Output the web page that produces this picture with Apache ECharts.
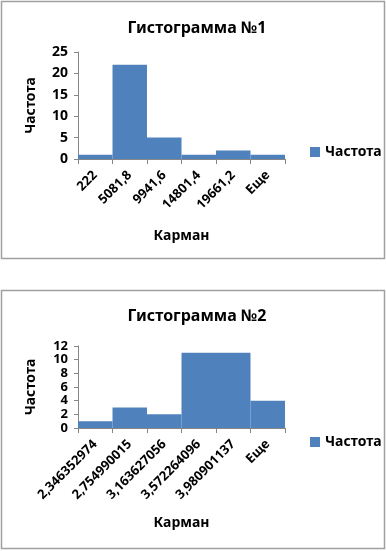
<!DOCTYPE html>
<html><head><meta charset="utf-8">
<script src="https://cdn.jsdelivr.net/npm/echarts@6/dist/echarts.min.js"></script>
<style>html,body{margin:0;padding:0;background:#fff;}#c{width:386px;height:551px;}</style>
</head><body><div id="c"></div>
<script>
const title1 = 'Гистограмма №1';
const title2 = 'Гистограмма №2';
const seriesName = 'Частота';
const xName = 'Карман';
const yName = 'Частота';
const categories1 = ['222', '5081,8', '9941,6', '14801,4', '19661,2', 'Еще'];
const values1 = [1, 22, 5, 1, 2, 1];
const categories2 = ['2,346352974', '2,754990015', '3,163627056', '3,572264096', '3,980901137', 'Еще'];
const values2 = [1, 3, 2, 11, 11, 4];

const FONT = '"Noto Sans", "Open Sans", sans-serif';
const BAR = '#4F81BD';
const AX = '#868686';

function xAxis(gridIndex, cats, gap) {
  return {
    type: 'category', gridIndex, data: cats,
    name: xName, nameLocation: 'middle', nameGap: gap,
    nameTextStyle: { fontFamily: FONT, fontWeight: 'bold', fontSize: 14, color: '#000' },
    axisLine: { lineStyle: { color: AX } },
    axisTick: { show: true, alignWithLabel: false, length: 5, lineStyle: { color: AX } },
    axisLabel: { rotate: 45, interval: 0, margin: 14, fontFamily: FONT, fontWeight: 'bold', fontSize: 13, color: '#000' }
  };
}
function yAxis(gridIndex, max, interval, fs) {
  return {
    type: 'value', gridIndex, min: 0, max, interval,
    name: yName, nameLocation: 'middle', nameGap: 40, nameRotate: 90,
    nameTextStyle: { fontFamily: FONT, fontWeight: 'bold', fontSize: 14, color: '#000' },
    axisLine: { show: true, lineStyle: { color: AX } },
    axisTick: { show: true, length: 4, lineStyle: { color: AX } },
    splitLine: { show: false },
    axisLabel: { margin: 10, showMinLabel: true, showMaxLabel: true, hideOverlap: false,
      fontFamily: FONT, fontWeight: 'bold', fontSize: fs, lineHeight: fs, color: '#000' }
  };
}

const chart = echarts.init(document.getElementById('c'));
chart.setOption({
  animation: false,
  backgroundColor: '#fff',
  graphic: [
    { type: 'rect', shape: { x: 1.5, y: 1.5, width: 383, height: 257 }, style: { fill: 'none', stroke: '#a0a0a0', lineWidth: 1.5 } },
    { type: 'rect', shape: { x: 1.5, y: 290.5, width: 383, height: 258 }, style: { fill: 'none', stroke: '#a0a0a0', lineWidth: 1.5 } }
  ],
  title: [
    { text: title1, left: 192, top: 15, textAlign: 'center', textStyle: { fontFamily: FONT, fontWeight: 'bold', fontSize: 16, color: '#000' } },
    { text: title2, left: 192, top: 303, textAlign: 'center', textStyle: { fontFamily: FONT, fontWeight: 'bold', fontSize: 16, color: '#000' } }
  ],
  legend: [
    { data: [seriesName], left: 305, top: 140, itemWidth: 10, itemHeight: 10, itemGap: 4, icon: 'rect',
      textStyle: { fontFamily: FONT, fontWeight: 'bold', fontSize: 14, color: '#000' } },
    { data: [seriesName + ' '], left: 305, top: 430, itemWidth: 10, itemHeight: 10, itemGap: 4, icon: 'rect',
      formatter: () => seriesName,
      textStyle: { fontFamily: FONT, fontWeight: 'bold', fontSize: 14, color: '#000' } }
  ],
  grid: [
    { left: 78, right: 101, top: 52, height: 107 },
    { left: 78, right: 101, top: 346, height: 82 }
  ],
  xAxis: [xAxis(0, categories1, 70), xAxis(1, categories2, 88)],
  yAxis: [yAxis(0, 25, 5, 14), yAxis(1, 12, 2, 13)],
  series: [
    { name: seriesName, type: 'bar', xAxisIndex: 0, yAxisIndex: 0, data: values1, barCategoryGap: '0%', itemStyle: { color: BAR } },
    { name: seriesName + ' ', type: 'bar', xAxisIndex: 1, yAxisIndex: 1, data: values2, barCategoryGap: '0%', itemStyle: { color: BAR } }
  ]
});
</script>
</body></html>
